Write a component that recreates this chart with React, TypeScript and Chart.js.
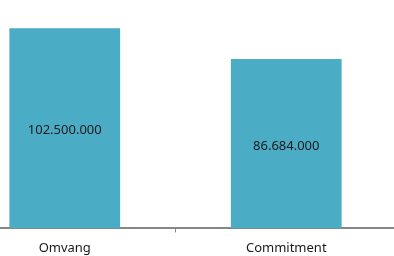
import React, { useEffect, useRef } from "react";
import { Chart, registerables } from "chart.js";

Chart.register(...registerables);

const categories = ["Omvang", "Commitment"];
const values = [102500000, 86684000];
const valueLabels = ["102.500.000", "86.684.000"];

const barLabelPlugin = {
  id: "barLabels",
  afterDatasetsDraw(chart: any) {
    const ctx = chart.ctx;
    const meta = chart.getDatasetMeta(0);
    ctx.save();
    ctx.font = '13px "Noto Sans", sans-serif';
    ctx.fillStyle = "#1a1a1a";
    ctx.textAlign = "center";
    ctx.textBaseline = "middle";
    meta.data.forEach((bar: any, i: number) => {
      const y = (bar.y + bar.base) / 2 + 2.5;
      ctx.fillText(valueLabels[i], bar.x, y);
    });
    ctx.restore();
  },
};

export default function App() {
  const ref = useRef<HTMLCanvasElement | null>(null);
  useEffect(() => {
    if (!ref.current) return;
    const chart = new Chart(ref.current, {
      type: "bar",
      data: {
        labels: categories,
        datasets: [
          {
            data: values,
            backgroundColor: "#4bacc6",
            barPercentage: 0.5,
            categoryPercentage: 1,
          },
        ],
      },
      options: {
        animation: false,
        responsive: false,
        maintainAspectRatio: false,
        layout: { padding: 0 },
        plugins: { legend: { display: false }, tooltip: { enabled: false } },
        scales: {
          y: { display: false, min: 0, max: 120000000 },
          x: {
            grid: {
              drawOnChartArea: false,
              drawTicks: true,
              tickLength: 4,
              color: "#868686",
              lineWidth: 1,
            },
            border: { display: true, color: "#868686", width: 2 },
            ticks: {
              color: "#1a1a1a",
              padding: 8,
              font: { family: '"Noto Sans", sans-serif', size: 13 },
            },
          },
        },
      },
      plugins: [barLabelPlugin],
    });
    return () => chart.destroy();
  }, []);
  return (
    <div style={{ position: "fixed", left: -46, top: -6, width: 443, height: 270 }}>
      <canvas ref={ref} width={443} height={270} style={{ display: "block" }} />
    </div>
  );
}
